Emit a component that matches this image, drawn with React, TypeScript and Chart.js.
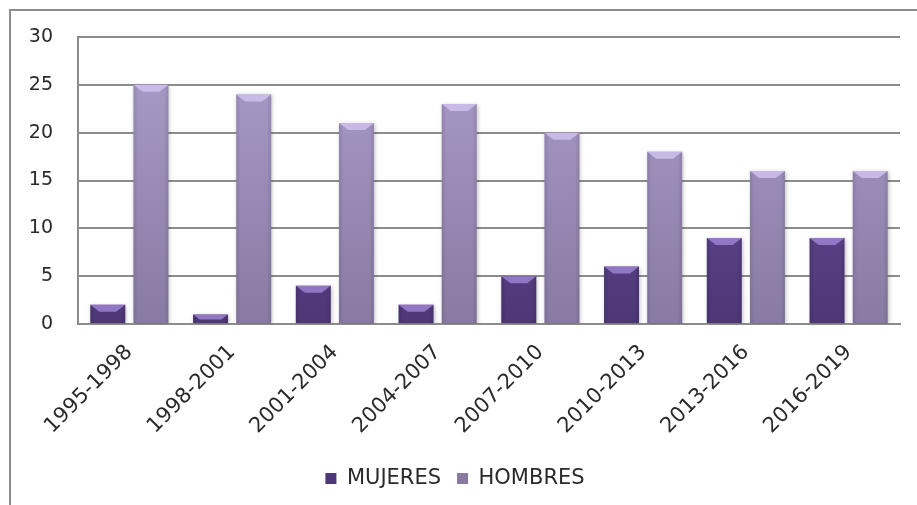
import React, { useEffect, useRef } from "react";
import { Chart, registerables } from "chart.js";

Chart.register(...registerables);

const categories = ["1995-1998", "1998-2001", "2001-2004", "2004-2007", "2007-2010", "2010-2013", "2013-2016", "2016-2019"];
const mujeres = [2, 1, 4, 2, 5, 6, 9, 9];
const hombres = [25, 24, 21, 23, 20, 18, 16, 16];
const seriesNames = ["MUJERES", "HOMBRES"];

const FONT = "'DejaVu Sans', 'Liberation Sans', sans-serif";

const bevelPlugin = {
  id: "bevel",
  beforeDraw(chart: any) {
    const ctx = chart.ctx;
    ctx.save();
    ctx.strokeStyle = "#8c8c8c";
    ctx.lineWidth = 2;
    ctx.beginPath();
    ctx.moveTo(10, 505);
    ctx.lineTo(10, 10);
    ctx.lineTo(917, 10);
    ctx.stroke();
    ctx.restore();
  },
  beforeDatasetsDraw(chart: any) {
    const ctx = chart.ctx;
    ctx.save();
    ctx.shadowColor = "rgba(0,0,0,0.25)";
    ctx.shadowBlur = 4;
    ctx.shadowOffsetX = 1;
    ctx.shadowOffsetY = 1;
  },
  afterDatasetsDraw(chart: any) {
    const ctx = chart.ctx;
    ctx.restore();
    const tops = ["rgba(160,135,215,0.8)", "rgba(210,195,240,0.8)"];
    const sides = ["rgba(40,25,70,0.18)", "rgba(60,45,90,0.14)"];
    chart.data.datasets.forEach((ds: any, di: number) => {
      const meta = chart.getDatasetMeta(di);
      meta.data.forEach((bar: any) => {
        const w = bar.width;
        const left = bar.x - w / 2;
        const right = bar.x + w / 2;
        const top = bar.y;
        const h = bar.base - bar.y;
        const b = Math.min(7, h * 0.6);
        ctx.save();
        const g = ctx.createLinearGradient(left, 0, right, 0);
        g.addColorStop(0, sides[di]);
        g.addColorStop(0.12, "rgba(0,0,0,0)");
        g.addColorStop(0.88, "rgba(0,0,0,0)");
        g.addColorStop(1, sides[di]);
        ctx.fillStyle = g;
        ctx.fillRect(left, top, w, h);
        ctx.fillStyle = tops[di];
        ctx.beginPath();
        ctx.moveTo(left, top);
        ctx.lineTo(right, top);
        ctx.lineTo(right - b * 1.3, top + b);
        ctx.lineTo(left + b * 1.3, top + b);
        ctx.closePath();
        ctx.fill();
        ctx.restore();
      });
    });
  },
};

function makeGradient(chart: any, top: string, bottom: string) {
  const area = chart.chartArea;
  if (!area) return top;
  const g = chart.ctx.createLinearGradient(0, area.top, 0, area.bottom);
  g.addColorStop(0, top);
  g.addColorStop(1, bottom);
  return g;
}

export default function App() {
  const ref = useRef<HTMLCanvasElement>(null);
  useEffect(() => {
    if (!ref.current) return;
    const chart = new Chart(ref.current, {
      type: "bar",
      data: {
        labels: categories,
        datasets: [
          {
            label: seriesNames[0],
            data: mujeres,
            backgroundColor: (c: any) => makeGradient(c.chart, "#6c55a5", "#4d3776"),
            barPercentage: 0.81,
            categoryPercentage: 0.84,
          },
          {
            label: seriesNames[1],
            data: hombres,
            backgroundColor: (c: any) => makeGradient(c.chart, "#ac9dcb", "#887aa2"),
            barPercentage: 0.81,
            categoryPercentage: 0.84,
          },
        ],
      },
      options: {
        animation: false,
        responsive: false,
        maintainAspectRatio: false,
        layout: { padding: { left: 10, right: 17, top: 37, bottom: 6 } },
        plugins: {
          legend: {
            position: "bottom",
            labels: {
              font: { family: FONT, size: 21 },
              color: "#2a2a2a",
              boxWidth: 11,
              boxHeight: 11,
              padding: 16,
            },
          },
          tooltip: { enabled: false },
        },
        scales: {
          x: {
            grid: { display: false },
            border: { display: true, color: "#8c8c8c", width: 2 },
            ticks: {
              font: { family: FONT, size: 21 },
              color: "#2a2a2a",
              maxRotation: 45,
              minRotation: 45,
              padding: 8,
            },
            afterFit: (s: any) => {
              s.height = 128;
            },
          },
          y: {
            min: 0,
            max: 30,
            ticks: {
              stepSize: 5,
              font: { family: FONT, size: 19 },
              color: "#2a2a2a",
              padding: 25,
            },
            grid: { color: "#8c8c8c", lineWidth: 2, drawTicks: false },
            border: { display: true, color: "#8c8c8c", width: 2 },
            afterFit: (s: any) => {
              s.width = 68;
            },
          },
        },
      },
      plugins: [bevelPlugin],
    });
    return () => chart.destroy();
  }, []);
  return (
    <div style={{ position: "fixed", left: 0, top: 0, width: 917, height: 505, background: "#fff" }}>
      <canvas ref={ref} width={917} height={505} style={{ width: 917, height: 505 }} />
    </div>
  );
}
